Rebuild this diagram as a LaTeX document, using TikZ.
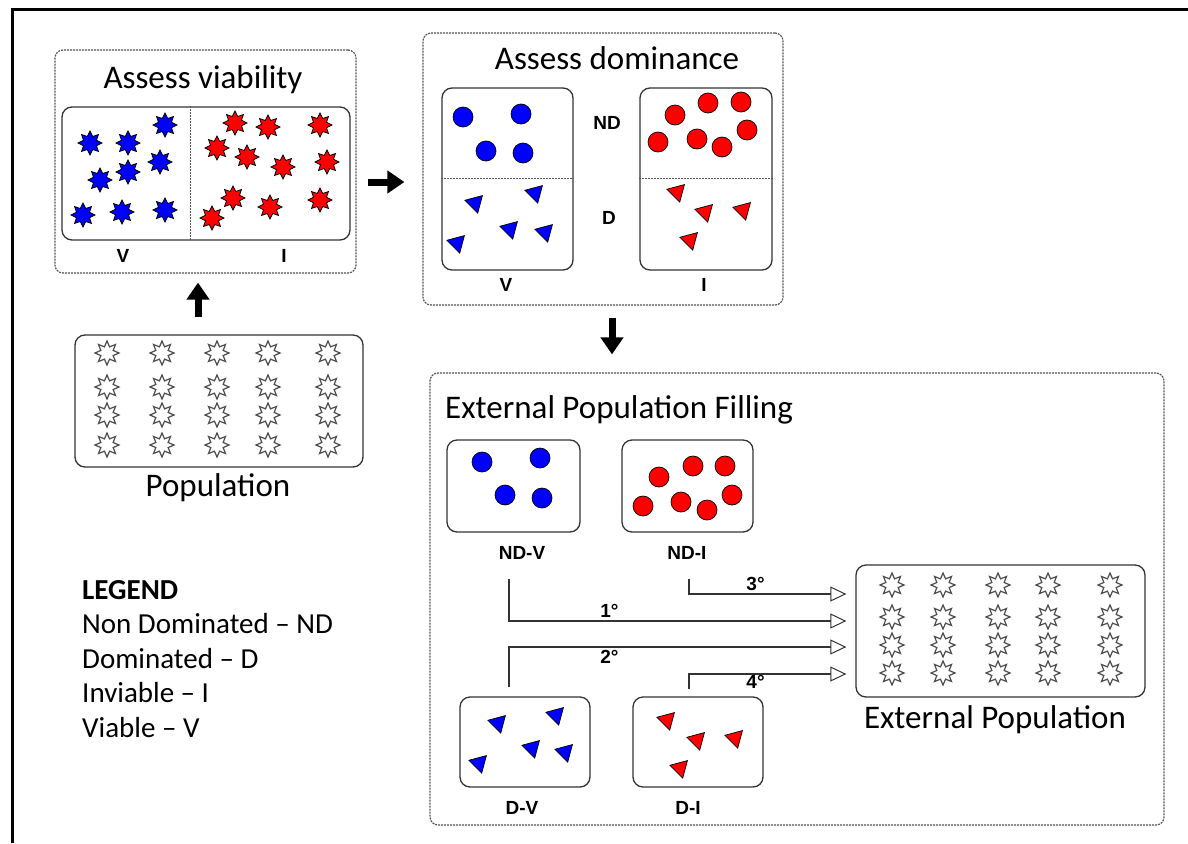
\documentclass[tikz,border=0pt]{standalone}
\usepackage{fontspec}
\setmainfont{Carlito}
\newfontfamily\tagfont{Liberation Sans}
\usetikzlibrary{arrows.meta,positioning,shapes.geometric,calc}
\definecolor{cViab}{HTML}{0000FF}
\definecolor{cInv}{HTML}{FF0000}
\definecolor{cLine}{HTML}{333333}
\definecolor{cDash}{HTML}{555555}
\tikzset{
  grp/.style={draw=cDash, line width=1.2pt, dash pattern=on 2pt off 1pt,
              rounded corners=8pt, inner sep=0pt},
  pool/.style={draw=cLine, line width=1.3pt, rounded corners=10pt, inner sep=0pt},
  divider/.style={draw=cDash, line width=1pt, dash pattern=on 2pt off 1pt},
  heading/.style={font=\fontsize{33}{36}\selectfont, inner sep=0pt},
  lbl/.style={font=\tagfont\bfseries\fontsize{19}{21}\selectfont, inner sep=1pt},
  sol/.style={star, star points=8, star point ratio=1.7, minimum size=24pt,
              inner sep=0pt, draw=black, line width=0.8pt, fill=#1},
  blank/.style={star, star points=8, star point ratio=1.8, minimum size=24pt,
                inner sep=0pt, draw=black!70, line width=1.2pt},
  ndom/.style={circle, minimum size=20pt, inner sep=0pt, draw=black,
               line width=0.7pt, fill=#1},
  dom/.style={regular polygon, regular polygon sides=3, shape border rotate=195,
              minimum size=21pt, inner sep=0pt, draw=black, line width=0.7pt, fill=#1},
  bigarrow/.style={line width=7pt, -{Triangle[length=17pt,width=22pt]}},
  feed/.style={draw=cLine, line width=1.2pt,
               -{Triangle[open, length=16pt, width=15pt, line width=1pt]}, shorten >=9pt},
}

\begin{document}
\begin{tikzpicture}[x=1pt, y=-1pt]
  \useasboundingbox (0,0) rectangle (1188,843);
  % outer frame
  \draw[line width=3pt] (12,843) -- (12,10) -- (1188,10);

  % assess viability
  \node[grp, minimum width=301pt, minimum height=223pt] (viabf) at (205.5,161.5) {};
  \node[heading] (viabt) at (203,80) {Assess viability};
  \node[pool, minimum width=288pt, minimum height=133pt] (viabb) at (206,173.5) {};
  \draw[divider] ([xshift=-16pt]viabb.north) -- ([xshift=-16pt]viabb.south);
  \node[lbl] (viabv) at (123,256) {V};
  \node[lbl] (viabi) at (284,256) {I};
  \foreach \p [count=\i] in {(90,143),(128,143),(165,125),(160,162),(128,172),
                             (100,180),(83,215),(122,212),(165,210)}
    \node[sol=cViab] (vs\i) at \p {};
  \foreach \p [count=\i] in {(235,123),(268,127),(320,125),(217,148),(247,157),(283,167),
                             (327,162),(233,198),(270,207),(320,200),(212,218)}
    \node[sol=cInv] (is\i) at \p {};

  % population
  \node[pool, minimum width=288pt, minimum height=132pt] (pop) at (219,401) {};
  \node[heading] (popt) at (218,488) {Population};
  \foreach \x in {107,162,217,268,328}
    \foreach \y in {353,387,415,445}
      \node[blank] (p\x-\y) at (\x,\y) {};

  % assess dominance
  \node[grp, minimum width=360pt, minimum height=272pt] (domf) at (603,169) {};
  \node[heading] (domt) at (617,58) {Assess dominance};
  \node[pool, minimum width=131pt, minimum height=182pt] (domv) at (507.5,179) {};
  \node[pool, minimum width=132pt, minimum height=182pt] (domi) at (706,179) {};
  \draw[divider] ([yshift=1pt]domv.west) -- ([yshift=1pt]domv.east);
  \draw[divider] ([yshift=1pt]domi.west) -- ([yshift=1pt]domi.east);
  \node[lbl] (ndt) at (607,123) {ND};
  \node[lbl] (dt) at (609,218) {D};
  \node[lbl] (domvt) at (506,285) {V};
  \node[lbl] (domit) at (704,285) {I};
  \foreach \p [count=\i] in {(463,117),(521,114),(486,151),(523,153)}
    \node[ndom=cViab] (vc\i) at \p {};
  \foreach \p [count=\i] in {(475,203),(535,193),(510,229),(545,232),(457,243)}
    \node[dom=cViab] (vt\i) at \p {};
  \foreach \p [count=\i] in {(675,115),(708,103),(741,102),(658,142),(697,139),(722,147),(747,130)}
    \node[ndom=cInv] (ic\i) at \p {};
  \foreach \p [count=\i] in {(677,192),(705,212),(743,210),(690,240)}
    \node[dom=cInv] (it\i) at \p {};

  % external population filling
  \node[grp, minimum width=734pt, minimum height=452pt] (fillf) at (797,599) {};
  \node[heading, anchor=west] (fillt) at (445,410) {External Population Filling};
  \node[pool, minimum width=133pt, minimum height=92pt] (ndv) at (513.5,486) {};
  \node[pool, minimum width=131pt, minimum height=92pt] (ndi) at (687.5,486) {};
  \node[pool, minimum width=130pt, minimum height=90pt] (dv) at (525,742) {};
  \node[pool, minimum width=130pt, minimum height=90pt] (di) at (698,742) {};
  \node[lbl] (ndvt) at (522,553) {ND-V};
  \node[lbl] (ndit) at (687,553) {ND-I};
  \node[lbl] (dvt) at (522,808) {D-V};
  \node[lbl] (dit) at (688,808) {D-I};
  \foreach \p [count=\i] in {(482,462),(540,458),(505,495),(542,498)}
    \node[ndom=cViab] (fvc\i) at \p {};
  \foreach \p [count=\i] in {(659,477),(693,466),(725,466),(732,495),(643,506),(681,502),(707,510)}
    \node[ndom=cInv] (fic\i) at \p {};
  \foreach \p [count=\i] in {(498,723),(556,715),(532,748),(565,752),(479,763)}
    \node[dom=cViab] (fvt\i) at \p {};
  \foreach \p [count=\i] in {(667,720),(697,740),(735,738),(680,768)}
    \node[dom=cInv] (fit\i) at \p {};

  % external population
  \node[pool, minimum width=289pt, minimum height=132pt] (ext) at (1000.5,631) {};
  \node[heading] (extt) at (995,720) {External Population};
  \foreach \x in {892,943,998,1048,1110}
    \foreach \y in {585,617,645,673}
      \node[blank] (e\x-\y) at (\x,\y) {};

  % legend
  \node[anchor=north west, align=left, inner sep=0pt,
        font=\fontsize{29}{34.5}\selectfont] (legend) at (82,580)
    {\textbf{LEGEND}\\Non Dominated -- ND\\Dominated -- D\\Inviable -- I\\Viable -- V};

  % flow
  \draw[bigarrow] ([shift={(11,20.5)}]viabf.east) -- ([shift={(-18,13)}]domf.west);
  \draw[bigarrow] ([shift={(-21,-17)}]pop.north) -- ([shift={(-7.5,9)}]viabf.south);
  \draw[bigarrow] ([shift={(9,12)}]domf.south) -- ([shift={(-185,-18)}]fillf.north);

  \draw[feed] ([shift={(1.5,46)}]ndi.south) |- ([yshift=37pt]ext.west)
    node[lbl, pos=0.70, above=2pt] {3°};
  \draw[feed] ([shift={(-4.5,46)}]ndv.south) |- ([yshift=10pt]ext.west)
    node[lbl, pos=0.645, above=2pt] {1°};
  \draw[feed] ([shift={(-16,-9)}]dv.north) |- ([yshift=-16pt]ext.west)
    node[lbl, pos=0.645, below=2pt] {2°};
  \draw[feed] ([shift={(-9,-7)}]di.north) |- ([yshift=-43pt]ext.west)
    node[lbl, pos=0.70, below=0pt] {4°};
\end{tikzpicture}
\end{document}
